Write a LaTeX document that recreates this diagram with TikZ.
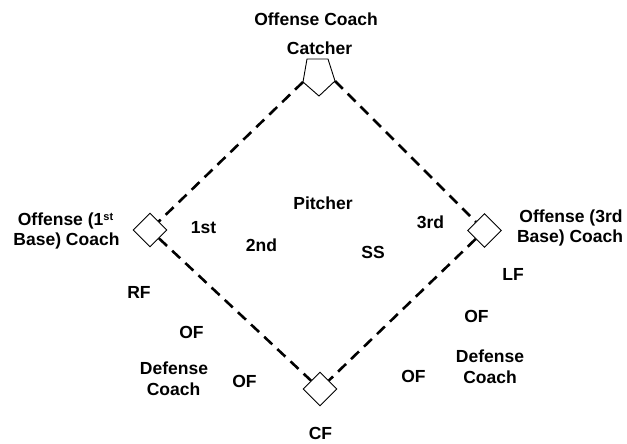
\documentclass[tikz,border=0pt]{standalone}
\usepackage{fontspec}
\setmainfont{Liberation Sans}
\usetikzlibrary{shapes.geometric}
\begin{document}
\begin{tikzpicture}[x=1pt,y=-1pt,
  lbl/.style={anchor=base,inner sep=0pt,font=\fontsize{17.5}{20}\selectfont\bfseries},
  basebox/.style={diamond,draw,line width=0.9pt,fill=white,minimum size=34pt,inner sep=0pt},
  baseline/.style={line width=2.6pt,dash pattern=on 11pt off 7pt}]
\useasboundingbox (0,0) rectangle (627,444);
% bases
\node[basebox] (first) at (150,230) {};
\node[basebox] (third) at (484.5,230.5) {};
\node[basebox] (home) at (320,389) {};
% pentagon (top)
\draw[line width=0.9pt,line join=miter] (307,59) -- (328,59) -- (335,81) -- (319,96) -- (303,82) -- cycle;
\coordinate (pl) at (303,82);
\coordinate (pr) at (335,81);
% dashed base lines
\draw[baseline] (pl) -- (first);
\draw[baseline] (pr) -- (third);
\draw[baseline] (first) -- (home);
\draw[baseline] (third) -- (home);
% labels
\node[lbl] (oc) at (316,26) {Offense Coach};
\node[lbl] (catcher) at (319.5,55) {Catcher};
\node[lbl] (pitcher) at (323,209) {Pitcher};
\node[lbl] (l1st) at (203.5,233) {1st};
\node[lbl] (l2nd) at (261.5,251) {2nd};
\node[lbl] (ss) at (373,258) {SS};
\node[lbl] (l3rd) at (430.5,228) {3rd};
\node[lbl] (oa1) at (65.5,225) {Offense (1{\fontsize{11}{12}\selectfont\raisebox{0.45em}{st}}};
\node[lbl] (oa2) at (66.5,245) {Base) Coach};
\node[lbl] (ob1) at (571,222) {Offense (3rd};
\node[lbl] (ob2) at (570,242) {Base) Coach};
\node[lbl] (rf) at (139,298) {RF};
\node[lbl] (ofa) at (191.5,338) {OF};
\node[lbl] (dca) at (174,374) {Defense};
\node[lbl] (dcb) at (173.5,395) {Coach};
\node[lbl] (ofb) at (244.5,387) {OF};
\node[lbl] (cf) at (320.5,439) {CF};
\node[lbl] (lf) at (513,280) {LF};
\node[lbl] (ofc) at (476.5,322) {OF};
\node[lbl] (dcc) at (490,362) {Defense};
\node[lbl] (dcd) at (490,383) {Coach};
\node[lbl] (ofd) at (413.5,382) {OF};
\end{tikzpicture}
\end{document}
